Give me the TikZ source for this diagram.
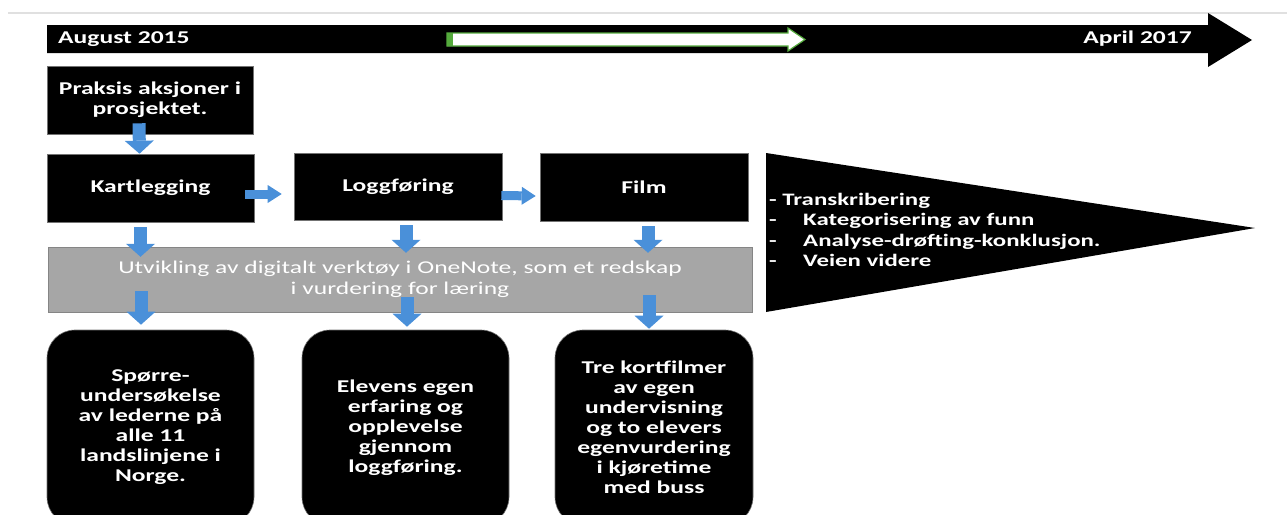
\documentclass[tikz,border=0pt]{standalone}
\usepackage{fontspec}
\setmainfont{Carlito}[FakeStretch=1.42]
\usetikzlibrary{arrows.meta}
\definecolor{ablue}{RGB}{74,144,217}
\definecolor{agray}{RGB}{166,166,166}
\definecolor{agreen}{RGB}{84,170,60}
\begin{document}
\begin{tikzpicture}[x=1pt,y=-1pt,
  blackbox/.style={fill=black, draw=black!55, line width=0.6pt, text=white,
    font=\bfseries\fontsize{18}{20}\selectfont, align=center, inner sep=0pt},
  roundbox/.style={blackbox, rounded corners=28pt},
  vblk/.style={ablue, line width=13pt, -{Triangle[width=29pt,length=13pt,line width=0pt]}},
  hblk/.style={ablue, line width=9pt, -{Triangle[width=18pt,length=14pt,line width=0pt]}},
  wtxt/.style={text=white, font=\bfseries\fontsize{18}{20}\selectfont, inner sep=0pt}
]
\useasboundingbox (0,0) rectangle (1287,514);
% top rule
\draw[black!12, line width=2.5pt] (8,13) -- (1287,13);
% timeline arrow
\fill[black] (47,25) -- (1208,25) -- (1208,13) -- (1252,40) -- (1208,67) -- (1208,53) -- (47,53) -- cycle;
\node[wtxt, anchor=west] (start) at (58,39) {August 2015};
\node[wtxt, anchor=east] (end) at (1192,39) {April 2017};
% progress arrow
\draw[agreen, fill=white, line width=1.2pt] (447,33) -- (788,33) -- (788,28) -- (805,39.5) -- (788,51) -- (788,46) -- (447,46) -- cycle;
\fill[agreen] (447,33) rectangle (453,46);
% boxes
\node[blackbox, minimum width=206pt, minimum height=68pt] (praksis) at (150,100) {Praksis aksjoner i\\prosjektet.};
\node[blackbox, minimum width=207pt, minimum height=68pt] (kart) at (150.5,188) {Kartlegging};
\node[blackbox, minimum width=208pt, minimum height=67pt] (logg) at (398,186.5) {Loggføring};
\node[blackbox, minimum width=208pt, minimum height=68pt] (film) at (644,187) {Film};
% triangle
\fill[black] (766,153) -- (1255,228) -- (766,312) -- cycle;
\node[text=white, font=\bfseries\fontsize{17.5}{20.5}\selectfont, align=left, anchor=west, inner sep=0pt] (tri) at (769,230)
  {- Transkribering\\\makebox[34pt][l]{-}Kategorisering av funn\\\makebox[34pt][l]{-}Analyse-drøfting-konklusjon.\\\makebox[34pt][l]{-}Veien videre};
% gray band
\node[fill=agray, draw=agray!80!black, line width=0.4pt, minimum width=704pt, minimum height=65pt, inner sep=0pt,
  text=white, font=\fontsize{18}{20.5}\selectfont, align=center] (gray) at (400,279.5)
  {Utvikling av digitalt verktøy i OneNote, som et redskap\\i vurdering for læring};
% bottom boxes
\node[roundbox, minimum width=207pt, minimum height=195pt] (b1) at (150.5,427.5) {Spørre-\\undersøkelse\\av lederne på\\alle 11\\landslinjene i\\Norge.};
\node[roundbox, minimum width=207pt, minimum height=195pt] (b2) at (405.5,427.5) {Elevens egen\\erfaring og\\opplevelse\\gjennom\\loggføring.};
\node[roundbox, minimum width=198pt, minimum height=195pt] (b3) at (654,427.5) {Tre kortfilmer\\av egen\\undervisning\\og to elevers\\egenvurdering\\i kjøretime\\med buss};
% block arrows
\draw[vblk] ([xshift=-11pt,yshift=11pt]praksis.south) -- ([xshift=-11pt]kart.north);
\draw[hblk] ([xshift=-9pt,yshift=-6pt]kart.east) -- ([xshift=-12pt]logg.west |- 0,194);
\draw[hblk] ([xshift=-1pt,yshift=-9pt]logg.east) -- ([xshift=-4pt]film.west |- 0,196);
\draw[vblk] ([xshift=-10pt,yshift=-5pt]kart.south) -- ([xshift=-10pt,yshift=-10pt]gray.north -| kart.south);
\draw[vblk] ([yshift=-5pt]logg.south -| 406,0) -- ([yshift=-6pt]gray.north -| 406,0);
\draw[vblk] ([yshift=-5pt]film.south -| 648,0) -- ([yshift=-6pt]gray.north -| 648,0);
\draw[vblk] ([yshift=21pt]gray.south -| 141,0) -- ([yshift=5pt]b1.north -| 141,0);
\draw[vblk] ([yshift=15pt]gray.south -| 407,0) -- ([yshift=3pt]b2.north -| 407,0);
\draw[vblk] ([yshift=17pt]gray.south -| 649,0) -- ([yshift=1pt]b3.north -| 649,0);
\end{tikzpicture}
\end{document}
